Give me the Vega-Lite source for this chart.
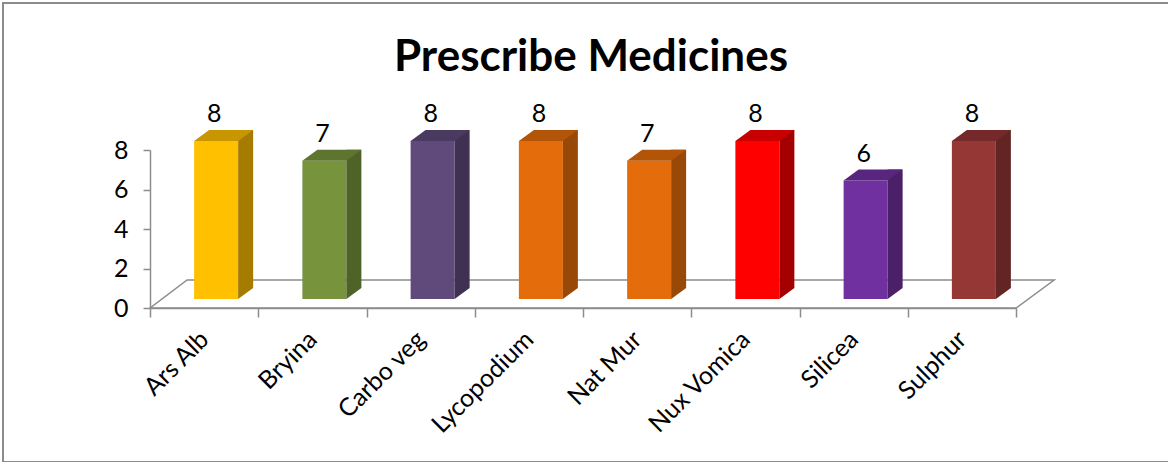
{
  "$schema": "https://vega.github.io/schema/vega-lite/v6.json",
  "width": 1170,
  "height": 459,
  "autosize": {"type": "none"},
  "padding": {"left": 3, "top": 3, "right": 0, "bottom": 0},
  "background": "white",
  "config": {"view": {"stroke": "#8c8c8c", "strokeWidth": 2}, "font": "Lato"},
  "title": {"text": "Prescribe Medicines", "fontSize": 44, "font": "Lato", "fontWeight": "bold", "color": "black", "anchor": "middle", "frame": "group", "orient": "top", "baseline": "alphabetic", "offset": -112, "dx": 3},
  "data": {"values": [
    {"medicine": "Ars Alb", "value": 8},
    {"medicine": "Bryina", "value": 7},
    {"medicine": "Carbo veg", "value": 8},
    {"medicine": "Lycopodium", "value": 8},
    {"medicine": "Nat Mur", "value": 7},
    {"medicine": "Nux Vomica", "value": 8},
    {"medicine": "Silicea", "value": 6},
    {"medicine": "Sulphur", "value": 8}
  ]},
  "encoding": {
    "x": {"field": "medicine", "type": "nominal", "sort": null,
      "scale": {"range": [147, 1013], "paddingInner": 0, "paddingOuter": 0},
      "axis": {"title": null, "labelAngle": -45, "labelAlign": "right", "labelBaseline": "middle", "labelFontSize": 25, "labelColor": "black", "labelFont": "Lato", "labelPadding": 18, "tickBand": "extent", "tickSize": 9, "tickColor": "#8c8c8c", "tickWidth": 1.5, "domainColor": "#8c8c8c", "domainWidth": 1.5, "offset": -154}},
    "y": {"field": "value", "type": "quantitative",
      "scale": {"domain": [0, 8], "range": [305, 147], "nice": false},
      "axis": {"title": null, "values": [0, 2, 4, 6, 8], "grid": false, "labelFontSize": 25, "labelColor": "black", "labelFont": "Lato", "labelPadding": 15, "tickSize": 7, "tickColor": "#8c8c8c", "tickWidth": 1.5, "domainColor": "#8c8c8c", "domainWidth": 1.5, "offset": -147}}
  },
  "layer": [
    {
      "transform": [{"filter": "datum.medicine == 'Ars Alb'"}],
      "mark": {"type": "point", "shape": "M-54,0L812,0L850,-28L-17,-28Z", "size": 4, "filled": false, "opacity": 1, "color": "#8c8c8c", "strokeWidth": 1.5},
      "encoding": {"y": {"datum": 0, "type": "quantitative"}}
    },
    {
      "mark": {"type": "bar", "width": 44, "xOffset": 12, "yOffset": -9, "y2Offset": -9},
      "encoding": {"color": {"field": "medicine", "type": "nominal", "legend": null,
        "scale": {"domain": ["Ars Alb","Bryina","Carbo veg","Lycopodium","Nat Mur","Nux Vomica","Silicea","Sulphur"],
          "range": ["#FFC000","#77933C","#604A7B","#E46C0A","#E46C0A","#FF0000","#7030A0","#953735"]}}}
    },
    {
      "mark": {"type": "bar", "width": 15, "xOffset": 41.5, "yOffset": -20, "y2Offset": -20},
      "encoding": {"color": {"field": "medicine", "type": "nominal", "legend": null,
        "scale": {"domain": ["Ars Alb","Bryina","Carbo veg","Lycopodium","Nat Mur","Nux Vomica","Silicea","Sulphur"],
          "range": ["#A67C00","#4F6228","#3F3151","#984807","#984807","#A50000","#4A2068","#632523"]}}}
    },
    {
      "mark": {"type": "point", "shape": "M34,-20L49,-20L34,-9Z", "size": 4, "filled": true, "opacity": 1, "strokeWidth": 0},
      "encoding": {"y": {"datum": 0, "type": "quantitative"},
        "color": {"field": "medicine", "type": "nominal", "legend": null,
        "scale": {"domain": ["Ars Alb","Bryina","Carbo veg","Lycopodium","Nat Mur","Nux Vomica","Silicea","Sulphur"],
          "range": ["#A67C00","#4F6228","#3F3151","#984807","#984807","#A50000","#4A2068","#632523"]}}}
    },
    {
      "mark": {"type": "point", "shape": "M-10,-9L34,-9L49,-20L5,-20Z", "size": 4, "filled": true, "opacity": 1, "strokeWidth": 0},
      "encoding": {"color": {"field": "medicine", "type": "nominal", "legend": null,
        "scale": {"domain": ["Ars Alb","Bryina","Carbo veg","Lycopodium","Nat Mur","Nux Vomica","Silicea","Sulphur"],
          "range": ["#C79600","#5E7530","#4B3A60","#B35509","#B35509","#C80000","#58267E","#75292A"]}}}
    },
    {
      "mark": {"type": "text", "fontSize": 25, "font": "Lato", "color": "black", "align": "center", "baseline": "alphabetic", "xOffset": 10, "yOffset": -28},
      "encoding": {"text": {"field": "value", "type": "quantitative"}}
    }
  ],
  "resolve": {"scale": {"color": "independent"}}
}
